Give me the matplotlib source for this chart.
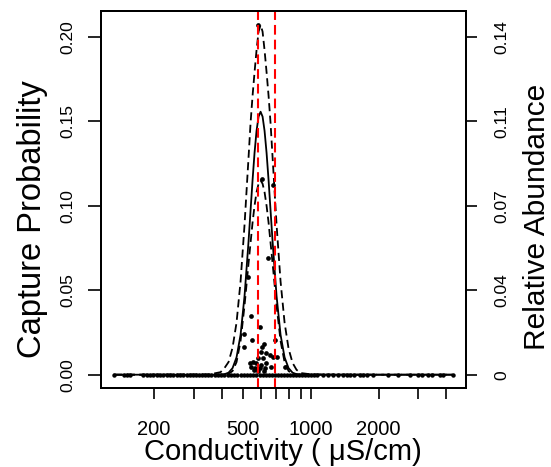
import matplotlib

matplotlib.use("Agg")
import matplotlib.pyplot as plt

plt.rcParams["font.family"] = ["Liberation Sans", "DejaVu Sans"]
plt.rcParams["lines.scale_dashes"] = False

# fitted response curve and its confidence band
COND_GRID = [133.1, 250, 350, 395.5, 412.0, 429.3, 447.3, 466.0, 485.6, 505.8,
             527.0, 537.9, 549.1, 560.4, 572.0, 584.0, 596.2, 608.5, 621.0, 633.9,
             647.1, 660.4, 674.2, 702.3, 731.7, 762.4, 794.1, 827.5, 861.9, 898.1,
             1000, 1500, 4275]
FIT = [0, 0, 0, 0.0001, 0.0003, 0.0012, 0.0039, 0.0103, 0.0236, 0.0466,
       0.0789, 0.0971, 0.1151, 0.1313, 0.1443, 0.1527, 0.1556, 0.1527, 0.1443, 0.1313,
       0.1151, 0.0971, 0.0789, 0.0466, 0.0236, 0.0103, 0.0039, 0.0012, 0.0003, 0.0001,
       0, 0, 0]
UPPER = [0, 0, 0.0001, 0.0015, 0.0040, 0.0075, 0.0160, 0.0309, 0.0552, 0.0888,
         0.1286, 0.1488, 0.1650, 0.1790, 0.1920, 0.2030, 0.2070, 0.2030, 0.1920, 0.1790,
         0.1650, 0.1488, 0.1286, 0.0888, 0.0552, 0.0309, 0.0155, 0.0070, 0.0029, 0.0010,
         0.0002, 0, 0]
LOWER = [0, 0, 0, 0, 0.0001, 0.0005, 0.0022, 0.0075, 0.0200, 0.0410,
         0.0660, 0.0780, 0.0900, 0.1000, 0.1080, 0.1130, 0.1150, 0.1130, 0.1080, 0.1000,
         0.0900, 0.0780, 0.0660, 0.0410, 0.0200, 0.0075, 0.0022, 0.0005, 0.0001, 0,
         0, 0, 0]

# observed samples with a capture
PT_COND = [583, 603, 675, 645, 526, 541, 590, 502, 547, 688, 502, 620, 603, 601,
           632, 655, 677, 708, 581, 611, 552, 571, 533, 601, 632, 542, 561, 591,
           622, 666, 764, 580, 560, 620]
PT_PROB = [0.207, 0.116, 0.112, 0.069, 0.058, 0.035, 0.028, 0.024, 0.0205, 0.0205,
           0.0166, 0.0182, 0.0166, 0.0136, 0.0127, 0.0117, 0.0107, 0.0107, 0.0097,
           0.0097, 0.0077, 0.0067, 0.0067, 0.0057, 0.0067, 0.0047, 0.0038, 0.0038,
           0.0040, 0.0047, 0.0047, 0.0020, 0.0025, 0.0022]

# samples without a capture (all at zero)
ZERO_COND = [133.1, 147.5, 152.1, 156.4, 178.1, 185.5, 191.9, 198.6, 205.6, 212.7,
             220.0, 229.2, 235.6, 243.8, 252.5, 261.1, 270, 279, 288, 297, 306, 316,
             326, 337, 348, 360, 372, 385, 398, 411, 425, 440, 455, 470, 486, 502,
             519, 536, 553, 571, 590, 609, 628, 648, 668, 690, 712, 735, 758, 782,
             806, 832, 858, 885, 912, 940, 970, 1000, 1030, 1060, 1134, 1194, 1257,
             1323, 1393, 1442, 1491, 1560, 1653, 1710, 1775, 1894, 2209, 2447, 2759,
             3004, 3111, 3330, 3447, 3753, 3881, 4275]

# optimum interval (red lines)
OPT_BOUNDS = [580, 688]

X_TICKS = [200, 300, 400, 500, 600, 700, 800, 900, 1000, 2000, 3000, 4000]
X_LABELS = ["200", "", "", "500", "", "", "", "", "1000", "2000", "", ""]
Y_TICKS = [0.0, 0.05, 0.10, 0.15, 0.20]
Y_LABELS = ["0.00", "0.05", "0.10", "0.15", "0.20"]
ABUND_LABELS = ["0", "0.04", "0.07", "0.11", "0.14"]

W, H = 551, 467
fig = plt.figure(figsize=(W / 100, H / 100), dpi=100)
ax = fig.add_axes([101 / W, 79 / H, 365 / W, 377 / H])

ax.plot(COND_GRID, FIT, color="black", lw=1.3)
ax.plot(COND_GRID, UPPER, color="black", lw=1.3, dashes=(5.8, 3.2))
ax.plot(COND_GRID, LOWER, color="black", lw=1.3, dashes=(5.8, 3.2))
ax.plot(ZERO_COND, [0] * len(ZERO_COND), "o", color="black", ms=3.2, mew=0)
ax.plot(PT_COND, PT_PROB, "o", color="black", ms=3.4, mew=0)
for b in OPT_BOUNDS:
    ax.axvline(b, color="#ff0000", lw=1.5, dashes=(7, 3.6))

ax.set_xscale("log")
ax.set_xlim(116.1, 4898)
ax.set_ylim(-0.00787, 0.2152)
ax.set_xticks(X_TICKS, labels=X_LABELS, fontsize=14.5)
ax.minorticks_off()
ax.set_yticks(Y_TICKS, labels=Y_LABELS, rotation=90, va="center", fontsize=12.5)
ax.tick_params(axis="x", length=8.2, width=1.2, pad=15)
ax.tick_params(axis="y", length=9.6, width=1.2, pad=8.5)

ax2 = ax.twinx()
ax2.set_ylim(ax.get_ylim())
ax2.set_yticks(Y_TICKS, labels=ABUND_LABELS, rotation=90, va="center", fontsize=12.5)
ax2.tick_params(axis="y", length=8.2, width=1.2, pad=12.5)

for a in (ax, ax2):
    for sp in a.spines.values():
        sp.set_linewidth(1.4)

fig.text(282.5 / W, 1 - 460.5 / H, "Conductivity ( \u03bcS/cm)", fontsize=21,
         ha="center", va="baseline")
fig.text(16.7 / W, 1 - 219 / H, "Capture Probability", fontsize=23.5,
         rotation=90, ha="left", va="center")
fig.text(523 / W, 1 - 217 / H, "Relative Abundance", fontsize=21.5,
         rotation=90, ha="left", va="center")

fig.savefig("out.png", dpi=100)
